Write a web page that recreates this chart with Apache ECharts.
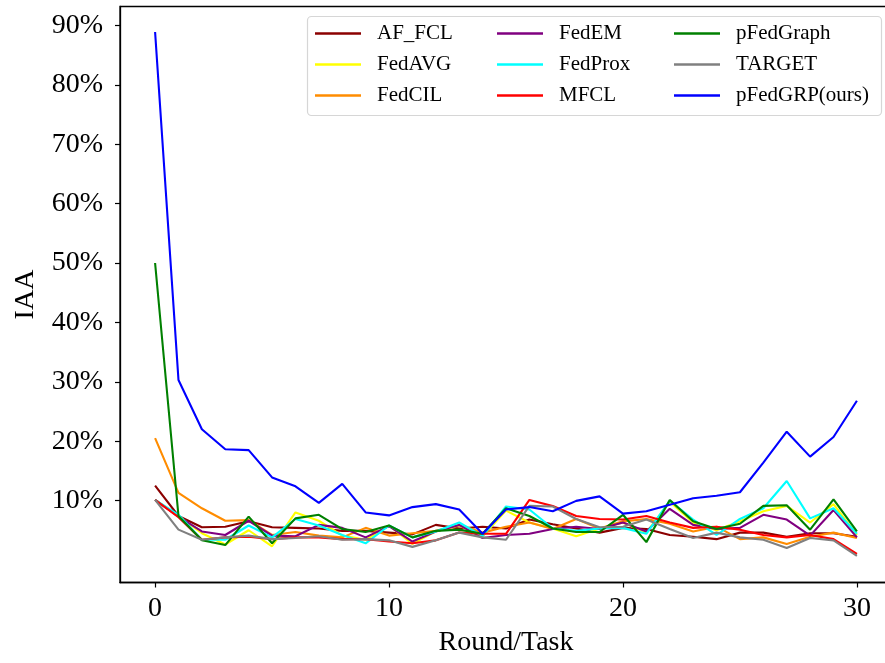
<!DOCTYPE html>
<html>
<head>
<meta charset="utf-8">
<script src="https://cdn.jsdelivr.net/npm/echarts@6/dist/echarts.min.js"></script>
<style>
  html, body { margin: 0; padding: 0; background: #fff; }
  #chart { width: 885px; height: 663px; }
</style>
</head>
<body>
<div id="chart"></div>
<script>
// x: round / task index
var rounds = [0, 1, 2, 3, 4, 5, 6, 7, 8, 9, 10, 11, 12, 13, 14, 15, 16, 17, 18, 19, 20, 21, 22, 23, 24, 25, 26, 27, 28, 29, 30]

// IAA (%) per method
var afFcl = [12.5, 7.4, 5.5, 5.6, 6.5, 5.5, 5.4, 5.3, 4.9, 4.9, 4.6, 4.3, 5.9, 5.3, 5.6, 5.3, 6.8, 6.0, 5.3, 4.6, 5.4, 5.2, 4.2, 3.9, 3.5, 4.6, 4.6, 3.9, 4.5, 4.5, 3.9]
var fedAvg = [10.1, 7.4, 4.5, 2.6, 5.0, 2.3, 8.0, 6.6, 4.1, 3.4, 5.8, 2.7, 4.8, 5.8, 4.0, 8.3, 6.3, 5.3, 4.0, 5.3, 6.3, 4.6, 9.8, 6.3, 5.0, 6.5, 8.2, 9.1, 6.3, 9.4, 4.2]
var fedCil = [20.5, 11.3, 8.7, 6.6, 6.7, 4.2, 4.7, 4.1, 3.8, 5.4, 4.1, 4.5, 4.9, 5.9, 4.6, 5.6, 6.3, 5.2, 6.9, 5.3, 6.5, 6.9, 6.1, 4.8, 5.6, 3.5, 3.8, 2.7, 3.9, 4.6, 3.7]
var fedEm = [10.1, 7.3, 4.8, 4.2, 6.6, 4.1, 4.0, 5.9, 5.4, 3.8, 5.7, 3.1, 4.8, 5.9, 3.7, 4.2, 4.4, 5.2, 5.6, 5.2, 6.3, 4.8, 8.6, 5.9, 5.2, 5.4, 7.6, 6.8, 4.1, 8.4, 3.8]
var fedProx = [10.1, 7.6, 3.4, 3.4, 5.8, 3.8, 6.9, 5.8, 4.2, 2.8, 5.8, 3.8, 4.8, 6.3, 4.0, 9.0, 8.5, 5.3, 4.9, 5.3, 5.4, 4.4, 10.0, 6.8, 4.2, 6.9, 8.7, 13.3, 7.0, 8.7, 4.4]
var mfcl = [10.1, 7.2, 3.4, 3.8, 3.9, 3.5, 3.8, 3.8, 3.5, 3.5, 3.1, 2.8, 3.3, 4.6, 4.4, 4.4, 10.1, 9.1, 7.4, 6.9, 6.8, 7.4, 6.3, 5.4, 5.6, 5.1, 4.2, 3.8, 4.2, 3.5, 1.0]
var pFedGraph = [50.0, 7.4, 3.3, 2.5, 7.3, 2.8, 7.0, 7.6, 5.2, 4.7, 5.8, 3.8, 4.9, 5.1, 4.4, 8.7, 7.4, 5.3, 4.7, 4.7, 7.6, 3.0, 10.1, 6.5, 5.2, 6.1, 9.1, 9.2, 5.1, 10.2, 4.8]
var target = [10.1, 5.1, 3.4, 3.8, 4.1, 3.5, 3.7, 4.0, 3.4, 3.5, 3.3, 2.2, 3.3, 4.6, 3.8, 3.4, 9.1, 9.0, 6.9, 5.5, 5.6, 6.8, 5.2, 3.7, 4.6, 3.8, 3.4, 2.0, 3.7, 3.3, 0.7]
var pFedGrp = [88.9, 30.3, 22.0, 18.65, 18.5, 13.9, 12.4, 9.6, 12.8, 8.0, 7.5, 8.9, 9.4, 8.5, 4.4, 8.5, 8.9, 8.2, 9.95, 10.7, 7.8, 8.2, 9.3, 10.4, 10.8, 11.4, 16.4, 21.6, 17.4, 20.7, 26.8]

var xTicks = [0, 10, 20, 30]
var yTicks = [10, 20, 30, 40, 50, 60, 70, 80, 90]

var names = ['AF_FCL', 'FedAVG', 'FedCIL', 'FedEM', 'FedProx', 'MFCL', 'pFedGraph', 'TARGET', 'pFedGRP(ours)']
var values = [afFcl, fedAvg, fedCil, fedEm, fedProx, mfcl, pFedGraph, target, pFedGrp]
var colors = ['#8b0000', '#ffff00', '#ff8c00', '#800080', '#00ffff', '#ff0000', '#008000', '#808080', '#0000ff']

var font = 'Liberation Serif'
var chart = echarts.init(document.getElementById('chart'))

function legendCol(left, data) {
  return {
    orient: 'vertical',
    left: left,
    top: 23,
    padding: 0,
    data: data,
    icon: 'rect',
    itemWidth: 46,
    itemHeight: 2.5,
    itemGap: 10,
    z: 5,
    selectedMode: false,
    textStyle: {
      fontFamily: font,
      fontSize: 21,
      lineHeight: 21,
      color: '#000',
      padding: [0, 0, 0, 11]
    }
  }
}

var option = {
  backgroundColor: '#fff',
  animation: false,
  // 图表距边框的距离 (right spine falls just outside the canvas)
  grid: {
    left: 120,
    width: 772,
    top: 6.5,
    bottom: 80.5,
    outerBoundsMode: 'none',
    containLabel: false,
    show: true,
    borderColor: '#000',
    borderWidth: 1.3
  },
  legend: [
    legendCol(315, names.slice(0, 3)),
    legendCol(497, names.slice(3, 6)),
    legendCol(674, names.slice(6, 9))
  ],
  graphic: [{
    type: 'rect',
    z: 4,
    shape: { x: 307.5, y: 16.5, width: 574, height: 99, r: 4 },
    style: { fill: 'rgba(255,255,255,0.8)', stroke: '#d6d6d6', lineWidth: 1.2 }
  }],
  xAxis: {
    type: 'value',
    min: -1.5,
    max: 31.5,
    name: 'Round/Task',
    nameLocation: 'middle',
    nameGap: 46,
    nameTextStyle: { fontFamily: font, fontSize: 28, color: '#000' },
    axisLine: { onZero: false, lineStyle: { color: '#000', width: 1.3 } },
    axisTick: { show: true, length: 5, customValues: xTicks, lineStyle: { color: '#000', width: 1.2 } },
    axisLabel: { customValues: xTicks, margin: 12, fontFamily: font, fontSize: 28, color: '#000' },
    splitLine: { show: false }
  },
  yAxis: {
    type: 'value',
    min: -3.8,
    max: 93.2,
    name: 'IAA',
    nameLocation: 'middle',
    nameGap: 80,
    nameTextStyle: { fontFamily: font, fontSize: 28, color: '#000' },
    axisLine: { show: true, onZero: false, lineStyle: { color: '#000', width: 1.3 } },
    axisTick: { show: true, length: 5, customValues: yTicks, lineStyle: { color: '#000', width: 1.2 } },
    axisLabel: {
      customValues: yTicks,
      margin: 17,
      fontFamily: font,
      fontSize: 28,
      color: '#000',
      formatter: function (v) { return v + '%' }
    },
    splitLine: { show: false }
  },
  series: names.map(function (n, i) {
    return {
      name: n,
      type: 'line',
      showSymbol: false,
      color: colors[i],
      lineStyle: { width: 2.1, color: colors[i] },
      data: rounds.map(function (r, j) { return [r, values[i][j]] })
    }
  })
}
chart.setOption(option)
</script>
</body>
</html>
